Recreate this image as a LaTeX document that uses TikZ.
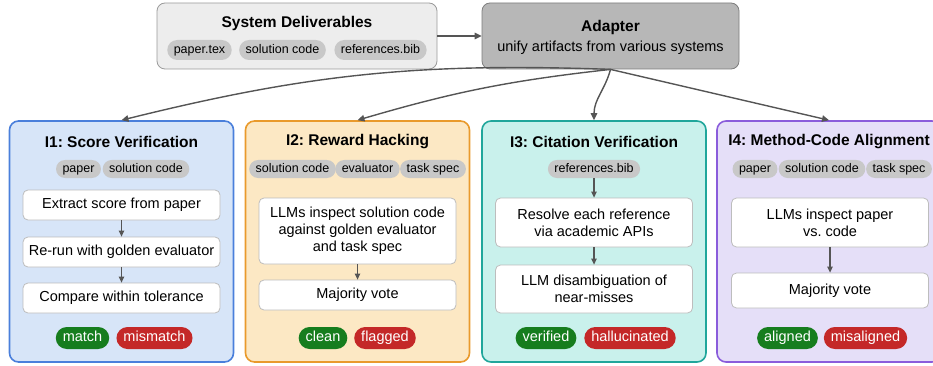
\documentclass[tikz,border=0pt]{standalone}
\usepackage{fontspec}
\setmainfont{Liberation Sans}
\usetikzlibrary{arrows.meta}
\usetikzlibrary{positioning}
\frenchspacing

\definecolor{delivfill}{HTML}{EDEDED}
\definecolor{delivline}{HTML}{9A9A9A}
\definecolor{adaptfill}{HTML}{B7B7B7}
\definecolor{adaptline}{HTML}{7E7E7E}
\definecolor{tagfill}{HTML}{C8C8C8}
\definecolor{stepline}{HTML}{BDBDBD}
\definecolor{arrowgray}{HTML}{555555}
\definecolor{bluefill}{HTML}{D7E5F8}
\definecolor{blueline}{HTML}{4A7FDB}
\definecolor{orangefill}{HTML}{FCE8C4}
\definecolor{orangeline}{HTML}{E99A2C}
\definecolor{tealfill}{HTML}{C9F1EC}
\definecolor{tealline}{HTML}{20A69B}
\definecolor{purplefill}{HTML}{E5DFF8}
\definecolor{purpleline}{HTML}{8A5CDB}
\definecolor{okgreen}{HTML}{167D1E}
\definecolor{badred}{HTML}{C42828}

\newcommand{\boxheadfont}{\fontsize{15.5}{18}\selectfont\bfseries}
\newcommand{\boxtextfont}{\fontsize{14.5}{17}\selectfont}
\newcommand{\pilltextfont}{\fontsize{12.5}{14}\selectfont}

\tikzset{
	topbox/.style={rectangle, rounded corners=8pt, line width=0.8pt, minimum width=257, minimum height=66},
	panel/.style={rectangle, rounded corners=9pt, line width=1.6pt, minimum width=224, minimum height=241},
	stepbox/.style={rectangle, rounded corners=5pt, draw=stepline, fill=white, line width=0.8pt,
		minimum width=197, align=center, font=\boxtextfont},
	tagpill/.style={rectangle, rounded corners=9pt, fill=tagfill, minimum height=18, inner xsep=6.5pt,
		inner ysep=0pt, text height=9pt, text depth=2.7pt, font=\pilltextfont},
	respill/.style={rectangle, rounded corners=11pt, minimum height=22, inner xsep=7pt,
		inner ysep=0pt, text height=10.5pt, text depth=3pt, text=white, font=\boxtextfont},
	headtext/.style={font=\boxheadfont}
}

\begin{document}
\begin{tikzpicture}[x=1pt, y=1pt]
	\clip (0,0) rectangle (933,-366);

	% deliverables and adapter
	\node[topbox, fill=delivfill, draw=delivline, minimum width=280] (deliv) at (297,-36) {};
	\node[headtext] (delivtitle) at (297,-23) {System Deliverables};
	\begin{scope}[every node/.style={tagpill, minimum height=20, rounded corners=10pt}]
		\node (dtag1) at (199.5,-50) {paper.tex};
		\node (dtag2) at (282.5,-50) {solution code};
		\node (dtag3) at (380.5,-50) {references.bib};
	\end{scope}

	\node[topbox, fill=adaptfill, draw=adaptline] (adapter) at (610.5,-36) {};
	\node[headtext] (adaptitle) at (610.5,-27) {Adapter};
	\node[font=\boxtextfont] (adaptsub) at (610.5,-48) {unify artifacts from various systems};

	% four panels
	\node[panel, fill=bluefill, draw=blueline] (p1) at (121.5,-241.5) {};
	\node[panel, fill=orangefill, draw=orangeline] (p2) at (357.5,-241.5) {};
	\node[panel, fill=tealfill, draw=tealline] (p3) at (594,-241.5) {};
	\node[panel, fill=purplefill, draw=purpleline] (p4) at (829,-241.5) {};

	\begin{scope}[every node/.style={headtext}]
		\node (t1) at (121.5,-142) {I1: Score Verification};
		\node (t2) at (357.5,-142) {I2: Reward Hacking};
		\node (t3) at (594,-142) {I3: Citation Verification};
		\node (t4) at (829,-142) {I4: Method-Code Alignment};
	\end{scope}

	\begin{scope}[every node/.style={tagpill}]
		\node (a11) at (78.5,-169) {paper};
		\node (a12) at (146,-169) {solution code};
		\node (a21) at (292.5,-169) {solution code};
		\node (a22) at (367.5,-169) {evaluator};
		\node (a23) at (433,-169) {task spec};
		\node (a31) at (594,-169) {references.bib};
		\node (a41) at (755,-169) {paper};
		\node (a42) at (822,-169) {solution code};
		\node (a43) at (899,-169) {task spec};
	\end{scope}

	\begin{scope}[every node/.style={stepbox}]
		\node[minimum height=30] (s11) at (121.5,-205) {Extract score from paper};
		\node[minimum height=30] (s12) at (121.5,-252) {Re-run with golden evaluator};
		\node[minimum height=30] (s13) at (121.5,-298) {Compare within tolerance};
		\node[minimum height=66] (s21) at (357.5,-231) {LLMs inspect solution code\\against golden evaluator\\and task spec};
		\node[minimum height=30] (s22) at (357.5,-295) {Majority vote};
		\node[minimum height=49] (s31) at (594,-222.5) {Resolve each reference\\via academic APIs};
		\node[minimum height=48] (s32) at (594,-289) {LLM disambiguation of\\near-misses};
		\node[minimum height=49] (s41) at (830,-222.5) {LLMs inspect paper\\vs. code};
		\node[minimum height=35] (s42) at (830,-290.5) {Majority vote};
	\end{scope}

	\begin{scope}[every node/.style={respill}]
		\node[fill=okgreen] (r11) at (82.5,-338) {match};
		\node[fill=badred] (r12) at (154.5,-338) {mismatch};
		\node[fill=okgreen] (r21) at (323,-338) {clean};
		\node[fill=badred] (r22) at (385,-338) {flagged};
		\node[fill=okgreen] (r31) at (546,-338) {verified};
		\node[fill=badred] (r32) at (630,-338) {hallucinated};
		\node[fill=okgreen] (r41) at (787.5,-338) {aligned};
		\node[fill=badred] (r42) at (865.5,-338) {misaligned};
	\end{scope}

	\begin{scope}[every edge/.style={draw=arrowgray, line width=1.4pt, -{Triangle[length=7pt, width=6.5pt]}}]
		\path (deliv) edge (adapter);
		\path (adapter.south) edge[bend right=8] (p1.north);
		\path (adapter.south) edge[bend right=5] (p2.north);
		\path (adapter.south) edge[out=-105, in=90] (p3.north);
		\path (adapter.south) edge (p4.north);
	\end{scope}

	\begin{scope}[every edge/.style={draw=arrowgray, line width=1.1pt, -{Triangle[length=6pt, width=5.5pt]}}]
		\path (s11) edge (s12);
		\path (s12) edge (s13);
		\path (s21) edge (s22);
		\path (a31) edge (s31);
		\path (s31) edge (s32);
		\path (s41) edge (s42);
	\end{scope}
\end{tikzpicture}
\end{document}
